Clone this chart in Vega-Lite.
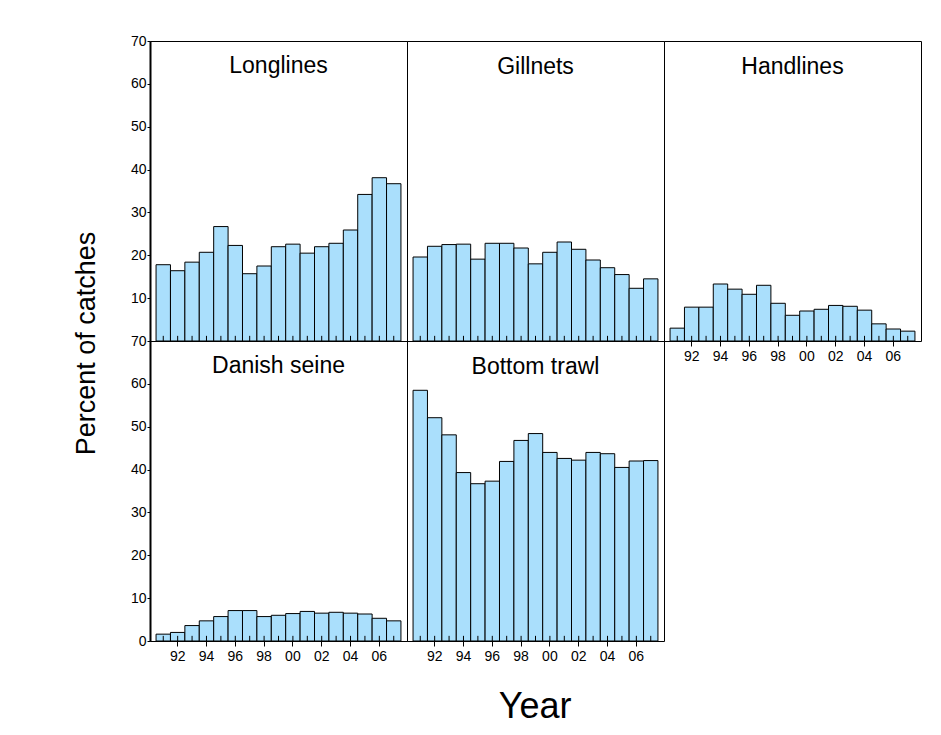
{
  "$schema": "https://vega.github.io/schema/vega-lite/v6.json",
  "padding": {"left": 72, "top": 33, "right": 5, "bottom": 5},
  "config": {
    "font": "Liberation Sans",
    "view": {"stroke": "black", "strokeWidth": 1},
    "axis": {"grid": false, "domainColor": "black", "tickColor": "black", "labelColor": "black", "labelFont": "Liberation Sans", "labelFontSize": 14},
    "title": {"font": "Liberation Sans", "fontWeight": "normal", "color": "black"}
  },
  "datasets": {
    "catches": [
      {"gear": "Longlines", "year": 1991, "pct": 17.8}, {"gear": "Longlines", "year": 1992, "pct": 16.4}, {"gear": "Longlines", "year": 1993, "pct": 18.4}, {"gear": "Longlines", "year": 1994, "pct": 20.7}, {"gear": "Longlines", "year": 1995, "pct": 26.7}, {"gear": "Longlines", "year": 1996, "pct": 22.3}, {"gear": "Longlines", "year": 1997, "pct": 15.7}, {"gear": "Longlines", "year": 1998, "pct": 17.5}, {"gear": "Longlines", "year": 1999, "pct": 22.0}, {"gear": "Longlines", "year": 2000, "pct": 22.6}, {"gear": "Longlines", "year": 2001, "pct": 20.5}, {"gear": "Longlines", "year": 2002, "pct": 22.0}, {"gear": "Longlines", "year": 2003, "pct": 22.8}, {"gear": "Longlines", "year": 2004, "pct": 25.9}, {"gear": "Longlines", "year": 2005, "pct": 34.2}, {"gear": "Longlines", "year": 2006, "pct": 38.1}, {"gear": "Longlines", "year": 2007, "pct": 36.7},
      {"gear": "Gillnets", "year": 1991, "pct": 19.6}, {"gear": "Gillnets", "year": 1992, "pct": 22.1}, {"gear": "Gillnets", "year": 1993, "pct": 22.5}, {"gear": "Gillnets", "year": 1994, "pct": 22.6}, {"gear": "Gillnets", "year": 1995, "pct": 19.1}, {"gear": "Gillnets", "year": 1996, "pct": 22.8}, {"gear": "Gillnets", "year": 1997, "pct": 22.8}, {"gear": "Gillnets", "year": 1998, "pct": 21.7}, {"gear": "Gillnets", "year": 1999, "pct": 18.0}, {"gear": "Gillnets", "year": 2000, "pct": 20.7}, {"gear": "Gillnets", "year": 2001, "pct": 23.1}, {"gear": "Gillnets", "year": 2002, "pct": 21.4}, {"gear": "Gillnets", "year": 2003, "pct": 18.9}, {"gear": "Gillnets", "year": 2004, "pct": 17.1}, {"gear": "Gillnets", "year": 2005, "pct": 15.5}, {"gear": "Gillnets", "year": 2006, "pct": 12.3}, {"gear": "Gillnets", "year": 2007, "pct": 14.5},
      {"gear": "Handlines", "year": 1991, "pct": 3.0}, {"gear": "Handlines", "year": 1992, "pct": 7.9}, {"gear": "Handlines", "year": 1993, "pct": 7.9}, {"gear": "Handlines", "year": 1994, "pct": 13.3}, {"gear": "Handlines", "year": 1995, "pct": 12.1}, {"gear": "Handlines", "year": 1996, "pct": 10.9}, {"gear": "Handlines", "year": 1997, "pct": 13.0}, {"gear": "Handlines", "year": 1998, "pct": 8.8}, {"gear": "Handlines", "year": 1999, "pct": 6.0}, {"gear": "Handlines", "year": 2000, "pct": 7.0}, {"gear": "Handlines", "year": 2001, "pct": 7.4}, {"gear": "Handlines", "year": 2002, "pct": 8.3}, {"gear": "Handlines", "year": 2003, "pct": 8.1}, {"gear": "Handlines", "year": 2004, "pct": 7.2}, {"gear": "Handlines", "year": 2005, "pct": 4.0}, {"gear": "Handlines", "year": 2006, "pct": 2.8}, {"gear": "Handlines", "year": 2007, "pct": 2.3},
      {"gear": "Danish seine", "year": 1991, "pct": 1.6}, {"gear": "Danish seine", "year": 1992, "pct": 2.0}, {"gear": "Danish seine", "year": 1993, "pct": 3.6}, {"gear": "Danish seine", "year": 1994, "pct": 4.7}, {"gear": "Danish seine", "year": 1995, "pct": 5.7}, {"gear": "Danish seine", "year": 1996, "pct": 7.1}, {"gear": "Danish seine", "year": 1997, "pct": 7.1}, {"gear": "Danish seine", "year": 1998, "pct": 5.7}, {"gear": "Danish seine", "year": 1999, "pct": 6.0}, {"gear": "Danish seine", "year": 2000, "pct": 6.4}, {"gear": "Danish seine", "year": 2001, "pct": 6.9}, {"gear": "Danish seine", "year": 2002, "pct": 6.5}, {"gear": "Danish seine", "year": 2003, "pct": 6.7}, {"gear": "Danish seine", "year": 2004, "pct": 6.5}, {"gear": "Danish seine", "year": 2005, "pct": 6.3}, {"gear": "Danish seine", "year": 2006, "pct": 5.3}, {"gear": "Danish seine", "year": 2007, "pct": 4.7},
      {"gear": "Bottom trawl", "year": 1991, "pct": 58.5}, {"gear": "Bottom trawl", "year": 1992, "pct": 52.1}, {"gear": "Bottom trawl", "year": 1993, "pct": 48.1}, {"gear": "Bottom trawl", "year": 1994, "pct": 39.3}, {"gear": "Bottom trawl", "year": 1995, "pct": 36.7}, {"gear": "Bottom trawl", "year": 1996, "pct": 37.3}, {"gear": "Bottom trawl", "year": 1997, "pct": 41.9}, {"gear": "Bottom trawl", "year": 1998, "pct": 46.8}, {"gear": "Bottom trawl", "year": 1999, "pct": 48.4}, {"gear": "Bottom trawl", "year": 2000, "pct": 44.0}, {"gear": "Bottom trawl", "year": 2001, "pct": 42.6}, {"gear": "Bottom trawl", "year": 2002, "pct": 42.2}, {"gear": "Bottom trawl", "year": 2003, "pct": 44.0}, {"gear": "Bottom trawl", "year": 2004, "pct": 43.7}, {"gear": "Bottom trawl", "year": 2005, "pct": 40.5}, {"gear": "Bottom trawl", "year": 2006, "pct": 42.0}, {"gear": "Bottom trawl", "year": 2007, "pct": 42.1}
    ]
  },
  "data": {"name": "catches"},
  "title": {"text": "Year", "orient": "bottom", "fontSize": 36, "anchor": "middle", "offset": 26, "dx": 38},
  "vconcat": [
    {
      "title": {"text": "Percent of catches", "orient": "left", "fontSize": 27, "anchor": "middle", "offset": 29, "dx": 5},
      "columns": 3,
      "spacing": 0,
      "bounds": "flush",
      "concat": [
        {
          "title": {"text": "Longlines", "fontSize": 23, "offset": -44, "frame": "group"},
          "width": 257, "height": 300,
          "transform": [{"filter": "datum.gear === 'Longlines'"}],
          "layer": [
            {"mark": {"type": "bar", "fill": "#aadffc", "stroke": "black", "strokeWidth": 1},
             "encoding": {
               "x": {"field": "year", "type": "ordinal", "scale": {"domain": [1991,1992,1993,1994,1995,1996,1997,1998,1999,2000,2001,2002,2003,2004,2005,2006,2007], "paddingInner": 0, "paddingOuter": 0.42}, "axis": null},
               "y": {"field": "pct", "type": "quantitative", "scale": {"domain": [0, 70]}, "axis": {"title": null, "values": [10,20,30,40,50,60,70], "tickSize": 3, "labelPadding": 1, "domainWidth": 2, "labelFontSize": 14}}
             }},
            {"mark": {"type": "rule", "color": "black"},
             "encoding": {"x": {"field": "year", "type": "ordinal"}, "y": {"datum": 0}, "y2": {"datum": 1.2}}}
          ]
        },
        {
          "title": {"text": "Gillnets", "fontSize": 23, "offset": -38, "frame": "group"},
          "width": 257, "height": 300,
          "transform": [{"filter": "datum.gear === 'Gillnets'"}],
          "layer": [
            {"mark": {"type": "bar", "fill": "#aadffc", "stroke": "black", "strokeWidth": 1},
             "encoding": {
               "x": {"field": "year", "type": "ordinal", "scale": {"domain": [1991,1992,1993,1994,1995,1996,1997,1998,1999,2000,2001,2002,2003,2004,2005,2006,2007], "paddingInner": 0, "paddingOuter": 0.42}, "axis": null},
               "y": {"field": "pct", "type": "quantitative", "scale": {"domain": [0, 70]}, "axis": null}
             }},
            {"mark": {"type": "rule", "color": "black"},
             "encoding": {"x": {"field": "year", "type": "ordinal"}, "y": {"datum": 0}, "y2": {"datum": 1.2}}}
          ]
        },
        {
          "title": {"text": "Handlines", "fontSize": 23, "offset": -38, "frame": "group"},
          "width": 257, "height": 300,
          "transform": [{"filter": "datum.gear === 'Handlines'"}],
          "layer": [
            {"mark": {"type": "bar", "fill": "#aadffc", "stroke": "black", "strokeWidth": 1},
             "encoding": {
               "x": {"field": "year", "type": "ordinal", "scale": {"domain": [1991,1992,1993,1994,1995,1996,1997,1998,1999,2000,2001,2002,2003,2004,2005,2006,2007], "paddingInner": 0, "paddingOuter": 0.42}, "axis": {"title": null, "values": [1992,1994,1996,1998,2000,2002,2004,2006], "labelExpr": "substring(toString(datum.value), 2)", "labelAngle": 0, "tickSize": 5, "labelPadding": 3, "domain": false, "labelFontSize": 14}},
               "y": {"field": "pct", "type": "quantitative", "scale": {"domain": [0, 70]}, "axis": null}
             }},
            {"mark": {"type": "rule", "color": "black"},
             "encoding": {"x": {"field": "year", "type": "ordinal"}, "y": {"datum": 0}, "y2": {"datum": 1.2}}}
          ]
        },
        {
          "title": {"text": "Danish seine", "fontSize": 23, "offset": -44, "frame": "group"},
          "width": 257, "height": 300,
          "transform": [{"filter": "datum.gear === 'Danish seine'"}],
          "layer": [
            {"mark": {"type": "bar", "fill": "#aadffc", "stroke": "black", "strokeWidth": 1},
             "encoding": {
               "x": {"field": "year", "type": "ordinal", "scale": {"domain": [1991,1992,1993,1994,1995,1996,1997,1998,1999,2000,2001,2002,2003,2004,2005,2006,2007], "paddingInner": 0, "paddingOuter": 0.42}, "axis": {"title": null, "values": [1992,1994,1996,1998,2000,2002,2004,2006], "labelExpr": "substring(toString(datum.value), 2)", "labelAngle": 0, "tickSize": 5, "labelPadding": 3, "domain": false, "labelFontSize": 14}},
               "y": {"field": "pct", "type": "quantitative", "scale": {"domain": [0, 70]}, "axis": {"title": null, "values": [0,10,20,30,40,50,60,70], "tickSize": 3, "labelPadding": 1, "domainWidth": 2, "labelFontSize": 14}}
             }},
            {"mark": {"type": "rule", "color": "black"},
             "encoding": {"x": {"field": "year", "type": "ordinal"}, "y": {"datum": 0}, "y2": {"datum": 1.2}}}
          ]
        },
        {
          "title": {"text": "Bottom trawl", "fontSize": 23, "offset": -38, "frame": "group"},
          "width": 257, "height": 300,
          "transform": [{"filter": "datum.gear === 'Bottom trawl'"}],
          "layer": [
            {"mark": {"type": "bar", "fill": "#aadffc", "stroke": "black", "strokeWidth": 1},
             "encoding": {
               "x": {"field": "year", "type": "ordinal", "scale": {"domain": [1991,1992,1993,1994,1995,1996,1997,1998,1999,2000,2001,2002,2003,2004,2005,2006,2007], "paddingInner": 0, "paddingOuter": 0.42}, "axis": {"title": null, "values": [1992,1994,1996,1998,2000,2002,2004,2006], "labelExpr": "substring(toString(datum.value), 2)", "labelAngle": 0, "tickSize": 5, "labelPadding": 3, "domain": false, "labelFontSize": 14}},
               "y": {"field": "pct", "type": "quantitative", "scale": {"domain": [0, 70]}, "axis": null}
             }},
            {"mark": {"type": "rule", "color": "black"},
             "encoding": {"x": {"field": "year", "type": "ordinal"}, "y": {"datum": 0}, "y2": {"datum": 1.2}}}
          ]
        }
      ]
    }
  ]
}
